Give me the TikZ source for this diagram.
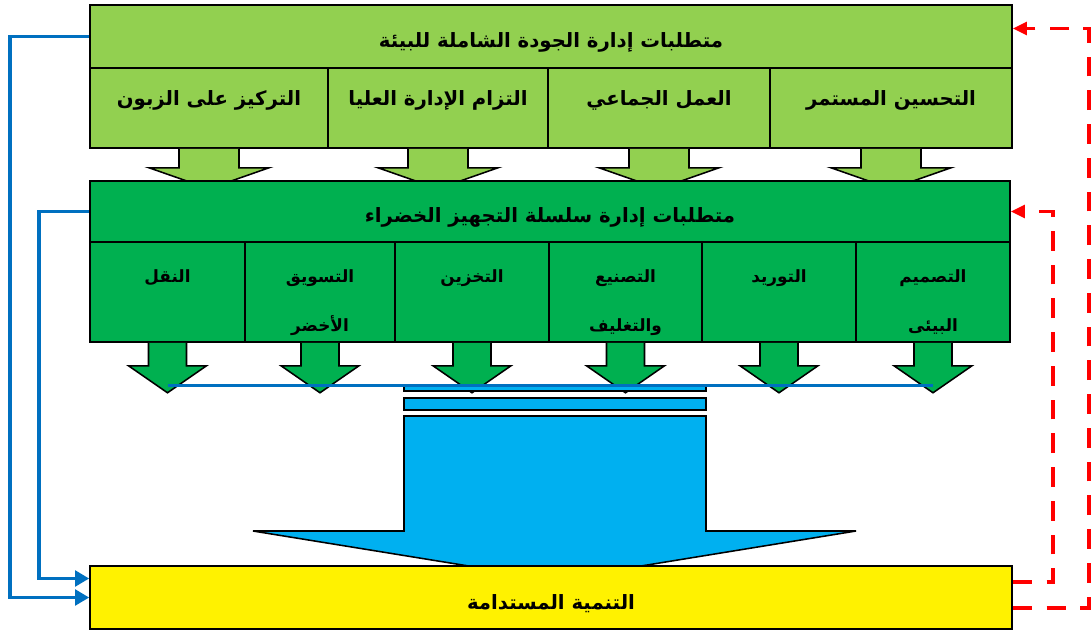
\documentclass[tikz,border=0pt]{standalone}
\usepackage{fontspec}
\newfontfamily\arabicfont[Script=Arabic]{DejaVu Sans}
\TeXXeTstate=1
\usetikzlibrary{arrows.meta, positioning, calc, fit}
\definecolor{tqmgreen}{HTML}{92D050}
\definecolor{scmgreen}{HTML}{00B050}
\definecolor{flowblue}{HTML}{0070C0}
\definecolor{barcyan}{HTML}{00B0F0}
\definecolor{loopred}{HTML}{FF0000}

\begin{document}
\begin{tikzpicture}[
    x=0.025cm, y=-0.025cm,
    font=\arabicfont\bfseries,
    box/.style={rectangle, draw=black, line width=1.1pt, inner sep=0pt, text centered, align=center},
    ttext/.style={anchor=center, yshift=-0.15cm, inner sep=0pt,
        font=\arabicfont\bfseries\fontsize{14pt}{17pt}\selectfont},
    subfont/.style={font=\arabicfont\bfseries\fontsize{14pt}{17pt}\selectfont},
    ctext/.style={anchor=north, yshift=-0.7cm, inner sep=0pt, align=center,
        font=\arabicfont\bfseries\fontsize{12pt}{35pt}\selectfont},
    qarrow/.style={draw=black, line width=1.1pt, fill=tqmgreen, line join=miter},
    garrow/.style={draw=black, line width=1.1pt, fill=scmgreen, line join=miter},
    cbox/.style={box, fill=barcyan},
    bline/.style={draw=flowblue, line width=2.4pt},
    fb/.style={-{Triangle[length=10pt,width=11pt]}, draw=flowblue, line width=2.8pt},
    fr/.style={-{Triangle[length=10pt,width=9pt]}, draw=loopred, line width=2.8pt, dash pattern=on 14pt off 10pt}
]
\useasboundingbox (0,0) rectangle (1091,632);

% TQM requirements
\node (tqm) [box, fill=tqmgreen, fit={(90,5)(1012,68)}, label={[ttext]center:\beginR متطلبات إدارة الجودة الشاملة للبيئة\endR}] {};
\node (q1) [box, fill=tqmgreen, subfont, fit={(90,68)(328,148)}] {\beginR التركيز على الزبون\endR};
\node (q2) [box, fill=tqmgreen, subfont, fit={(328,68)(548,148)}] {\beginR التزام الإدارة العليا\endR};
\node (q3) [box, fill=tqmgreen, subfont, fit={(548,68)(770,148)}] {\beginR العمل الجماعي\endR};
\node (q4) [box, fill=tqmgreen, subfont, fit={(770,68)(1012,148)}] {\beginR التحسين المستمر\endR};

\foreach \n in {q1,q2,q3,q4}
    \draw [qarrow] ($(\n.south)+(-30,0)$) -- ++(0,19) -- ++(-30,0) -- ++(60,21) -- ++(60,-21) -- ++(-30,0) -- ++(0,-19);

% green supply chain requirements
\node (gscm) [box, fill=scmgreen, fit={(90,181)(1010,242)}, label={[ttext]center:\beginR متطلبات إدارة سلسلة التجهيز الخضراء\endR}] {};
\node (g1) [box, fill=scmgreen, fit={(90,242)(245,342)}, label={[ctext]north:\beginR النقل\endR}] {};
\node (g2) [box, fill=scmgreen, fit={(245,242)(395,342)}, label={[ctext]north:\beginR التسويق\endR\\\beginR الأخضر\endR}] {};
\node (g3) [box, fill=scmgreen, fit={(395,242)(549,342)}, label={[ctext]north:\beginR التخزين\endR}] {};
\node (g4) [box, fill=scmgreen, fit={(549,242)(702,342)}, label={[ctext]north:\beginR التصنيع\endR\\\beginR والتغليف\endR}] {};
\node (g5) [box, fill=scmgreen, fit={(702,242)(856,342)}, label={[ctext]north:\beginR التوريد\endR}] {};
\node (g6) [box, fill=scmgreen, fit={(856,242)(1010,342)}, label={[ctext]north:\beginR التصميم\endR\\\beginR البيئى\endR}] {};

\foreach \n in {g1,g2,g3,g4,g5,g6}
    \draw [garrow] ($(\n.south)+(-19,0)$) -- ++(0,23) -- ++(-20,0) -- ++(39,27) -- ++(39,-27) -- ++(-20,0) -- ++(0,-23);

% collecting bars and big arrow
\node (bar1) [cbox, fit={(404,385)(706,391)}] {};
\coordinate (bl) at ($(g1.south)+(0,43)$);
\coordinate (br) at ($(g6.south)+(0,43)$);
\draw [bline] (bl) -- (br);
\node (bar2) [cbox, fit={(404,398)(706,410)}] {};
\draw [box, fill=barcyan, line join=miter] (404,416) -- (404,531) -- (253,531) -- (555,580) -- (856,531) -- (706,531) -- (706,416) -- cycle;

% sustainable development
\node (goal) [box, fill=yellow, fit={(90,566)(1012,629)}, label={[ttext]center:\beginR التنمية المستدامة\endR}] {};

% feedback paths
\draw [fb] (tqm.west) -- ++(-79,0) |- (goal.west);
\draw [fb] (gscm.west) -- ++(-50,0) |- ([yshift=0.475cm]goal.west);
\draw [fr] ([yshift=-0.26cm]goal.east) -- ++(76,0) |- ([yshift=0.2cm]tqm.east);
\draw [fr] ([yshift=0.39cm]goal.east) -- ++(40,0) |- (gscm.east);

\end{tikzpicture}
\end{document}
